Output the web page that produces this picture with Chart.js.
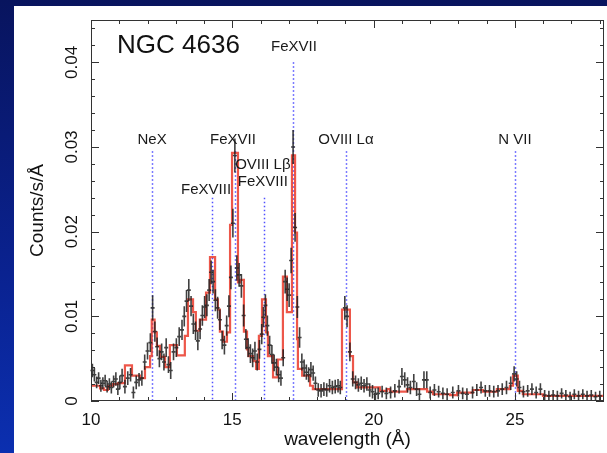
<!DOCTYPE html>
<html>
<head>
<meta charset="utf-8">
<script src="https://cdn.jsdelivr.net/npm/chart.js@4.4.0/dist/chart.umd.min.js"></script>
<style>
  html, body { margin: 0; padding: 0; }
  body {
    width: 607px; height: 453px; overflow: hidden; position: relative;
    background: linear-gradient(to bottom, #08145e 0%, #0a2290 60%, #0b2fb0 100%);
  }
  #panel { position: absolute; left: 14px; top: 6px; width: 593px; height: 447px; background: #fff; }
</style>
</head>
<body>
<div id="panel"><canvas id="spectrum" width="593" height="447"></canvas></div>
<script>
// model (red histogram): left bin edges in Angstrom and rate in each bin
const modelEdges = [10.0, 10.32, 10.46, 10.60, 10.78, 10.96, 11.20, 11.45, 11.73, 11.91,
  12.09, 12.15, 12.25, 12.33, 12.44, 12.62, 12.79, 13.04, 13.32, 13.43,
  13.61, 13.71, 13.85, 14.07, 14.21, 14.39, 14.49, 14.56, 14.67, 14.81,
  14.92, 14.99, 15.20, 15.27, 15.41, 15.52, 15.57, 15.73, 15.84, 15.94,
  16.05, 16.19, 16.26, 16.44, 16.61, 16.79, 16.93, 17.11, 17.22, 17.29,
  17.32, 17.47, 17.75, 17.85, 18.88, 19.16, 19.27, 19.41, 20.22, 20.47,
  20.58, 21.18, 21.89, 22.10, 22.70, 22.95, 23.51, 23.87, 24.36, 24.82,
  24.93, 25.10, 25.28, 25.99];
const modelValues = [0.0018, 0.0015, 0.0013, 0.0018, 0.0020, 0.0021, 0.0042, 0.0030, 0.0027, 0.0040,
  0.0053, 0.0096, 0.0081, 0.0065, 0.0052, 0.0040, 0.0066, 0.0054, 0.0077, 0.0120,
  0.0105, 0.0083, 0.0096, 0.0128, 0.0170, 0.0120, 0.0108, 0.0082, 0.0070, 0.0081,
  0.0208, 0.0293, 0.0140, 0.0143, 0.0082, 0.0061, 0.0053, 0.0047, 0.0038, 0.0077,
  0.0120, 0.0081, 0.0053, 0.0028, 0.0049, 0.0147, 0.0105, 0.0290, 0.0199, 0.0073,
  0.0038, 0.0030, 0.0018, 0.0014, 0.0108, 0.0053, 0.0022, 0.0016, 0.0012, 0.0014,
  0.0011, 0.0014, 0.0011, 0.0008, 0.0007, 0.0010, 0.0013, 0.0011, 0.0014, 0.0018,
  0.0030, 0.0012, 0.0008, 0.0006];
const modelEnd = 28.15;

// measured spectrum: wavelength, rate, 1-sigma error
const dataWave = [10.05, 10.12, 10.2, 10.27, 10.35, 10.42, 10.5, 10.57, 10.65, 10.72,
  10.8, 10.88, 10.95, 11.02, 11.1, 11.2, 11.3, 11.4, 11.5, 11.6,
  11.7, 11.8, 11.9, 12.0, 12.1, 12.18, 12.26, 12.34, 12.42, 12.5,
  12.58, 12.66, 12.74, 12.82, 12.92, 13.02, 13.12, 13.22, 13.3, 13.38,
  13.46, 13.54, 13.62, 13.7, 13.78, 13.86, 13.94, 14.02, 14.1, 14.18,
  14.25, 14.32, 14.4, 14.48, 14.56, 14.64, 14.72, 14.8, 14.88, 14.95,
  15.02, 15.09, 15.16, 15.24, 15.32, 15.4, 15.48, 15.56, 15.64, 15.72,
  15.8, 15.88, 15.96, 16.04, 16.1, 16.17, 16.24, 16.32, 16.4, 16.48,
  16.56, 16.64, 16.72, 16.8, 16.87, 16.94, 17.01, 17.08, 17.15, 17.22,
  17.3, 17.38, 17.46, 17.54, 17.62, 17.7, 17.78, 17.86, 17.94, 18.04,
  18.14, 18.24, 18.34, 18.44, 18.54, 18.64, 18.74, 18.82, 18.98, 19.06,
  19.16, 19.26, 19.36, 19.46, 19.56, 19.66, 19.76, 19.86, 19.96, 20.06,
  20.16, 20.3, 20.45, 20.6, 20.75, 20.9, 21.0, 21.1, 21.2, 21.3,
  21.42, 21.52, 21.62, 21.78, 21.88, 22.0, 22.15, 22.3, 22.45, 22.6,
  22.8, 23.0, 23.15, 23.3, 23.5, 23.65, 23.8, 23.95, 24.1, 24.25,
  24.4, 24.55, 24.7, 24.85, 24.97, 25.06, 25.16, 25.3, 25.45, 25.6,
  25.75, 25.9, 26.05, 26.2, 26.35, 26.5, 26.65, 26.8, 26.95, 27.1,
  27.25, 27.4, 27.55, 27.7, 27.85, 28.0];
const dataRate = [0.0036, 0.0031, 0.0022, 0.0027, 0.0018, 0.0021, 0.0024, 0.0017, 0.0020, 0.0016,
  0.0023, 0.0026, 0.0014, 0.0022, 0.0030, 0.0017, 0.0027, 0.0031, 0.0010, 0.0022,
  0.0025, 0.0027, 0.0046, 0.0059, 0.0069, 0.0110, 0.0082, 0.0064, 0.0050, 0.0058,
  0.0046, 0.0063, 0.0043, 0.0036, 0.0058, 0.0063, 0.0076, 0.0084, 0.0100, 0.0118,
  0.0131, 0.0112, 0.0091, 0.0083, 0.0071, 0.0085, 0.0101, 0.0111, 0.0113, 0.0131,
  0.0152, 0.0141, 0.0119, 0.0110, 0.0096, 0.0072, 0.0066, 0.0089, 0.0112, 0.0146,
  0.0210, 0.0290, 0.0157, 0.0149, 0.0136, 0.0101, 0.0073, 0.0063, 0.0056, 0.0051,
  0.0059, 0.0046, 0.0061, 0.0079, 0.0099, 0.0113, 0.0089, 0.0066, 0.0055, 0.0045,
  0.0040, 0.0031, 0.0027, 0.0051, 0.0141, 0.0132, 0.0125, 0.0166, 0.0300, 0.0205,
  0.0111, 0.0075, 0.0046, 0.0039, 0.0034, 0.0031, 0.0037, 0.0033, 0.0021, 0.0013,
  0.0012, 0.0014, 0.0013, 0.0018, 0.0016, 0.0017, 0.0018, 0.0016, 0.0110, 0.0100,
  0.0058, 0.0026, 0.0022, 0.0019, 0.0021, 0.0018, 0.0020, 0.0013, 0.0011, 0.0008,
  0.0009, 0.0011, 0.0009, 0.0010, 0.0012, 0.0017, 0.0029, 0.0025, 0.0019, 0.0016,
  0.0023, 0.0014, 0.0008, 0.0025, 0.0025, 0.0010, 0.0013, 0.0011, 0.0009, 0.0008,
  0.0010, 0.0012, 0.0009, 0.0008, 0.0010, 0.0013, 0.0016, 0.0012, 0.0012, 0.0011,
  0.0012, 0.0014, 0.0016, 0.0021, 0.0032, 0.0026, 0.0016, 0.0011, 0.0012, 0.0014,
  0.0010, 0.0014, 0.0007, 0.0006, 0.0007, 0.0006, 0.0009, 0.0007, 0.0005, 0.0008,
  0.0006, 0.0008, 0.0006, 0.0007, 0.0005, 0.0006];
const dataErr = [0.0008, 0.0008, 0.0007, 0.0007, 0.0007, 0.0007, 0.0007, 0.0007, 0.0007, 0.0007,
  0.0007, 0.0008, 0.0007, 0.0008, 0.0008, 0.0008, 0.0008, 0.0008, 0.0007, 0.0008,
  0.0008, 0.0009, 0.0009, 0.0010, 0.0011, 0.0015, 0.0012, 0.0011, 0.0010, 0.0010,
  0.0010, 0.0011, 0.0010, 0.0010, 0.0010, 0.0011, 0.0011, 0.0012, 0.0012, 0.0013,
  0.0013, 0.0012, 0.0012, 0.0011, 0.0011, 0.0012, 0.0012, 0.0013, 0.0013, 0.0013,
  0.0014, 0.0014, 0.0013, 0.0013, 0.0012, 0.0011, 0.0011, 0.0012, 0.0013, 0.0014,
  0.0017, 0.0020, 0.0015, 0.0014, 0.0014, 0.0013, 0.0012, 0.0011, 0.0011, 0.0011,
  0.0011, 0.0010, 0.0011, 0.0012, 0.0012, 0.0013, 0.0012, 0.0011, 0.0011, 0.0010,
  0.0010, 0.0009, 0.0009, 0.0010, 0.0014, 0.0014, 0.0014, 0.0015, 0.0020, 0.0017,
  0.0013, 0.0012, 0.0010, 0.0010, 0.0009, 0.0009, 0.0009, 0.0009, 0.0008, 0.0008,
  0.0008, 0.0008, 0.0008, 0.0008, 0.0008, 0.0008, 0.0008, 0.0008, 0.0014, 0.0013,
  0.0011, 0.0009, 0.0008, 0.0008, 0.0008, 0.0008, 0.0008, 0.0008, 0.0008, 0.0007,
  0.0007, 0.0007, 0.0007, 0.0007, 0.0008, 0.0008, 0.0010, 0.0009, 0.0009, 0.0008,
  0.0009, 0.0008, 0.0007, 0.0010, 0.0010, 0.0007, 0.0007, 0.0007, 0.0007, 0.0007,
  0.0007, 0.0007, 0.0007, 0.0007, 0.0007, 0.0007, 0.0007, 0.0007, 0.0007, 0.0007,
  0.0007, 0.0007, 0.0008, 0.0008, 0.0009, 0.0009, 0.0008, 0.0007, 0.0007, 0.0007,
  0.0007, 0.0007, 0.0006, 0.0006, 0.0006, 0.0006, 0.0006, 0.0006, 0.0006, 0.0006,
  0.0006, 0.0006, 0.0006, 0.0006, 0.0006, 0.0006];

// emission line identifications
const lineWaves = [12.16, 14.28, 15.09, 16.12, 17.15, 19.02, 25.0];
const lineTops = [0.0295, 0.0240, 0.0295, 0.0240, 0.0400, 0.0295, 0.0295];
const lineNames = ['NeX', 'FeXVIII', 'FeXVII', 'OVIII Lβ', 'FeXVII', 'OVIII Lα', 'N VII', 'FeXVIII'];
const labelWaves = [12.16, 14.07, 15.02, 16.08, 17.18, 19.02, 25.0, 16.08];
const labelRates = [0.0304, 0.0245, 0.0304, 0.0274, 0.0413, 0.0304, 0.0304, 0.0254];

// axes
const xTickValues = [10, 15, 20, 25];
const xMinorTicks = [11, 12, 13, 14, 16, 17, 18, 19, 21, 22, 23, 24, 26, 27, 28];
const yTickValues = [0, 0.01, 0.02, 0.03, 0.04];
const yTickLabels = ['0', '0.01', '0.02', '0.03', '0.04'];
const yMinorTicks = [0.002, 0.004, 0.006, 0.008, 0.012, 0.014, 0.016, 0.018, 0.022, 0.024,
  0.026, 0.028, 0.032, 0.034, 0.036, 0.038, 0.042, 0.044];

const FONT = '"Liberation Sans", Arial, Helvetica, sans-serif';
const binHalf = 0.07;

const modelPoints = modelEdges.map((w, i) => ({ x: w, y: modelValues[i] }));
modelPoints.push({ x: modelEnd, y: modelValues[modelValues.length - 1] });
const dataPoints = dataWave.map((w, i) => ({ x: w, y: dataRate[i] }));

const spectrumPlugin = {
  id: 'spectrumPlugin',
  beforeDatasetsDraw(chart) {
    const { ctx, scales: { x, y } } = chart;
    ctx.save();
    ctx.strokeStyle = '#5050ff';
    ctx.lineWidth = 1.5;
    ctx.setLineDash([1.5, 2.5]);
    lineWaves.forEach((w, i) => {
      const px = Math.round(x.getPixelForValue(w)) + 0.5;
      ctx.beginPath();
      ctx.moveTo(px, y.getPixelForValue(lineTops[i]));
      ctx.lineTo(px, y.getPixelForValue(0));
      ctx.stroke();
    });
    ctx.restore();
  },
  afterDatasetsDraw(chart) {
    const { ctx, scales: { x, y } } = chart;
    // error bars of the measured spectrum
    ctx.save();
    ctx.strokeStyle = 'rgba(30,30,30,0.85)';
    ctx.lineWidth = 1.6;
    dataWave.forEach((w, i) => {
      const px = x.getPixelForValue(w);
      const py = y.getPixelForValue(dataRate[i]);
      ctx.beginPath();
      ctx.moveTo(px, y.getPixelForValue(Math.max(0, dataRate[i] - dataErr[i])));
      ctx.lineTo(px, y.getPixelForValue(dataRate[i] + dataErr[i]));
      ctx.moveTo(x.getPixelForValue(w - binHalf), py);
      ctx.lineTo(x.getPixelForValue(w + binHalf), py);
      ctx.stroke();
    });
    ctx.restore();
  },
  afterDraw(chart) {
    const { ctx, chartArea: a, scales: { x, y } } = chart;
    ctx.save();
    // frame and inward ticks on all four sides
    ctx.strokeStyle = '#333';
    ctx.lineWidth = 1;
    ctx.strokeRect(a.left + 0.5, a.top + 0.5, a.right - a.left - 1, a.bottom - a.top - 1);
    const xTick = (v, len) => {
      const px = Math.round(x.getPixelForValue(v)) + 0.5;
      ctx.moveTo(px, a.bottom); ctx.lineTo(px, a.bottom - len);
      ctx.moveTo(px, a.top); ctx.lineTo(px, a.top + len);
    };
    const yTick = (v, len) => {
      const py = Math.round(y.getPixelForValue(v)) + 0.5;
      ctx.moveTo(a.left, py); ctx.lineTo(a.left + len, py);
      ctx.moveTo(a.right, py); ctx.lineTo(a.right - len, py);
    };
    ctx.beginPath();
    xTickValues.forEach(v => xTick(v, 8));
    xMinorTicks.forEach(v => xTick(v, 4));
    yTickValues.forEach(v => yTick(v, 8));
    yMinorTicks.forEach(v => yTick(v, 4));
    ctx.stroke();

    // rotated y tick labels
    ctx.fillStyle = '#111';
    ctx.font = '17px ' + FONT;
    ctx.textAlign = 'center';
    ctx.textBaseline = 'middle';
    yTickValues.forEach((v, i) => {
      ctx.save();
      ctx.translate(a.left - 19, y.getPixelForValue(v));
      ctx.rotate(-Math.PI / 2);
      ctx.fillText(yTickLabels[i], 0, 0);
      ctx.restore();
    });

    // line identifications
    ctx.font = '15px ' + FONT;
    ctx.textBaseline = 'alphabetic';
    ctx.fillStyle = '#1a1a1a';
    lineNames.forEach((name, i) => {
      ctx.fillText(name, x.getPixelForValue(labelWaves[i]), y.getPixelForValue(labelRates[i]));
    });

    // object name
    ctx.font = '26px ' + FONT;
    ctx.textAlign = 'left';
    ctx.fillStyle = '#111';
    ctx.fillText('NGC 4636', a.left + 26, a.top + 33);
    ctx.restore();
  }
};

new Chart(document.getElementById('spectrum'), {
  type: 'scatter',
  data: {
    datasets: [
      {
        type: 'line',
        label: 'model',
        data: modelPoints,
        stepped: 'before',
        borderColor: 'rgba(234,58,42,0.85)',
        borderWidth: 2.2,
        pointRadius: 0,
        fill: false
      },
      {
        label: 'data',
        data: dataPoints,
        pointRadius: 0,
        showLine: false
      }
    ]
  },
  options: {
    responsive: false,
    animation: false,
    devicePixelRatio: 1,
    layout: { padding: { top: 14, right: 3, left: 0, bottom: 0 } },
    plugins: { legend: { display: false }, tooltip: { enabled: false } },
    scales: {
      x: {
        type: 'linear',
        min: 10,
        max: modelEnd,
        afterBuildTicks: scale => { scale.ticks = xTickValues.map(v => ({ value: v })); },
        afterFit: scale => { scale.height = 52; },
        grid: { display: false, drawTicks: false },
        border: { display: false },
        ticks: { color: '#111', font: { family: FONT, size: 17 }, padding: 9, maxRotation: 0 },
        title: {
          display: true, text: 'wavelength (Å)', color: '#111',
          font: { family: FONT, size: 19, lineHeight: 1.2 }, padding: { top: 0, bottom: 2 }
        }
      },
      y: {
        type: 'linear',
        min: 0,
        max: 0.045,
        afterFit: scale => { scale.width = 77; },
        grid: { display: false, drawTicks: false },
        border: { display: false },
        ticks: { display: false },
        title: {
          display: true, text: 'Counts/s/Å', color: '#111',
          font: { family: FONT, size: 19, lineHeight: 1.2 }, padding: { top: 12, bottom: 0 }
        }
      }
    }
  },
  plugins: [spectrumPlugin]
});
</script>
</body>
</html>
